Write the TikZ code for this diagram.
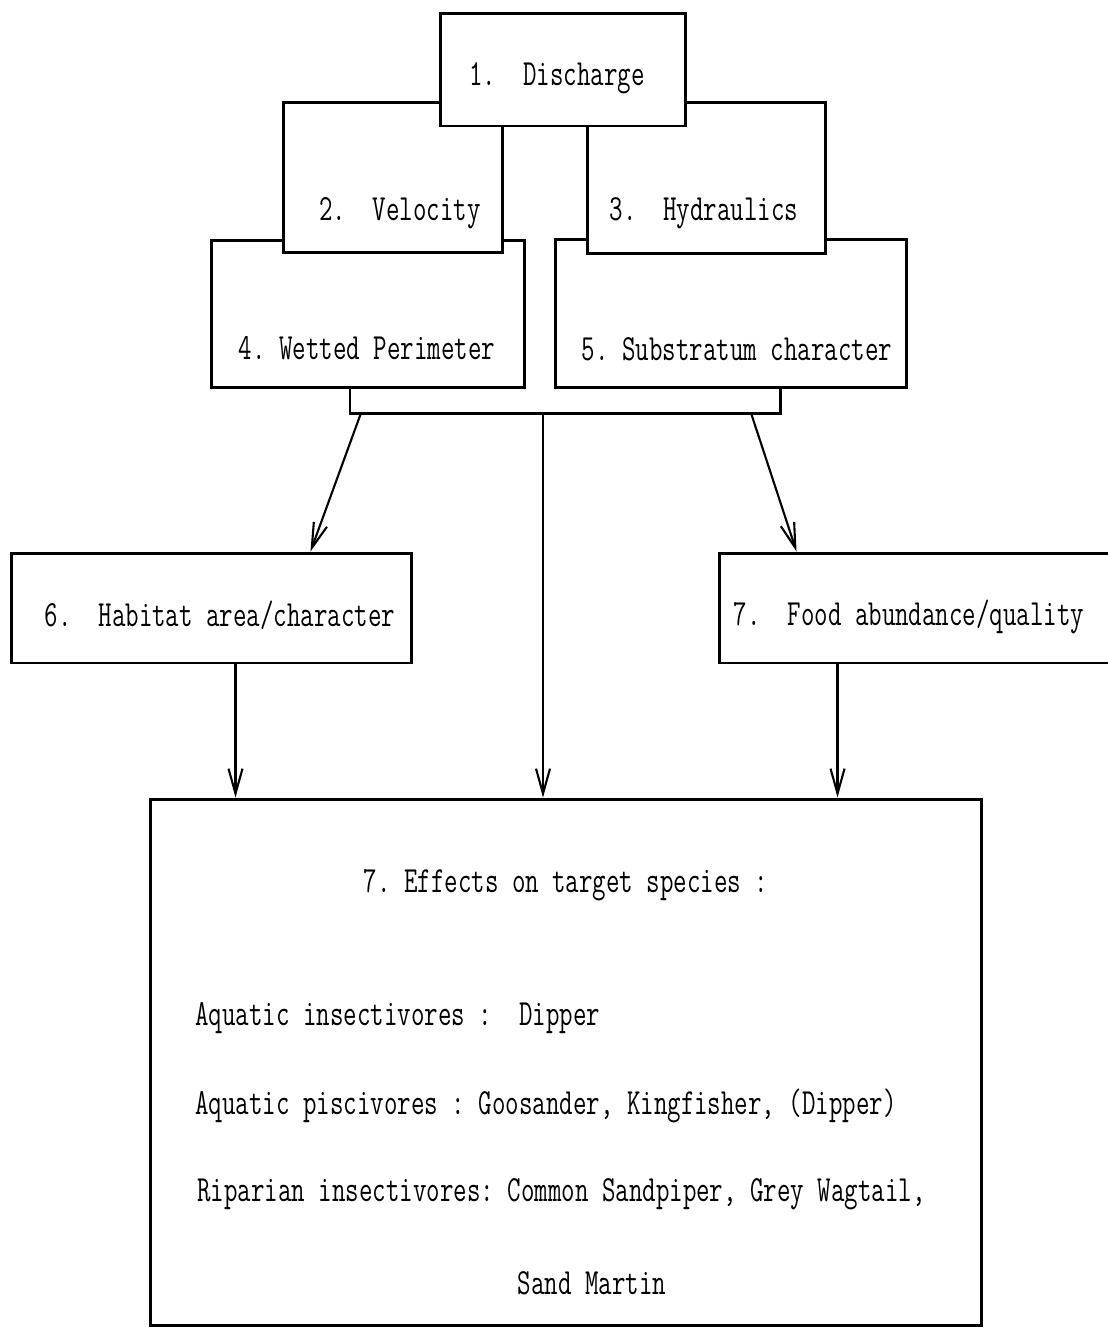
\documentclass[tikz,border=0pt]{standalone}
\usepackage{fontspec}
\setmonofont[FakeStretch=0.71]{Latin Modern Mono}
\usepackage{tikz}
\usetikzlibrary{arrows.meta}
\usetikzlibrary{positioning}

\begin{document}
\begin{tikzpicture}[x=0.02cm,y=-0.02cm,
  blk/.style={draw,fill=white,line width=1.7pt,inner sep=0pt},
  txt/.style={inner sep=0pt,font=\ttfamily\fontsize{21}{25}\selectfont},
  arr/.style={line width=1.2pt,-{Straight Barb[length=0.5cm,width=0.28cm]}}]
\useasboundingbox (0,0) rectangle (1108,1329);
\clip (0,0) rectangle (1108,1329);
% boxes, back to front
\node [blk, minimum width=6.28cm, minimum height=2.96cm] (b4) at (368,314) {};
\node [blk, minimum width=7.04cm, minimum height=2.98cm] (b5) at (731,313.5) {};
\node [blk, minimum width=4.4cm, minimum height=3.02cm] (b2) at (393,177.5) {};
\node [blk, minimum width=4.78cm, minimum height=3.04cm] (b3) at (706.5,178) {};
\node [blk, minimum width=4.92cm, minimum height=2.26cm] (b1) at (563,69.5) {};
\node [blk, minimum width=8.02cm, minimum height=2.2cm] (b6) at (211.5,608) {};
\node [blk, minimum width=8.12cm, minimum height=2.2cm] (b7) at (922,608) {};
\node [blk, minimum width=16.64cm, minimum height=10.54cm] (b8) at (566,1062.5) {};

% texts
\node [txt] (t1) at (557,78) {1.\ \ Discharge};
\node [txt] (t2) at (400,213) {2.\ \ Velocity};
\node [txt] (t3) at (704,213) {3.\ \ Hydraulics};
\node [txt] (t4) at (367,348) {4. Wetted Perimeter};
\node [txt] (t5) at (737,349) {5. Substratum character};
\node [txt] (t6) at (220,615) {6.\ \ Habitat area/character};
\node [txt] (t7) at (909,617) {7.\ \ Food abundance/quality};
\node [txt] (t8) at (566,885) {7. Effects on target species :};
\node [txt, anchor=west] (l1) at (195,1018) {Aquatic insectivores :\ \ Dipper};
\node [txt, anchor=west] (l2) at (195,1106) {Aquatic piscivores : Goosander, Kingfisher, (Dipper)};
\node [txt, anchor=west] (l3) at (197,1194) {Riparian insectivores: Common Sandpiper, Grey Wagtail,};
\node [txt] (l4) at (592,1283) {Sand Martin};

% bracket under 4 and 5
\coordinate (brl) at (350,413);
\coordinate (brr) at (780,413);
\draw [line width=1.7pt] (b4.south -| brl) -- (brl) -- (brr) -- (b5.south -| brr);

% arrows
\coordinate (s1) at (361,413);
\coordinate (s2) at (543,413);
\coordinate (s3) at (751,413);
\coordinate (e1) at ([xshift=6.02cm]b6.north west);
\coordinate (e3) at ([xshift=1.58cm]b7.north west);
\coordinate (a6) at ([xshift=4.52cm]b6.south west);
\coordinate (a7) at ([xshift=2.4cm]b7.south west);
\draw [arr] (s1) -- (e1);
\draw [arr] (s3) -- (e3);
\draw [arr] (s2) -- (s2 |- b8.north);
\draw [arr] (a6) -- (a6 |- b8.north);
\draw [arr] (a7) -- (a7 |- b8.north);
\end{tikzpicture}
\end{document}
